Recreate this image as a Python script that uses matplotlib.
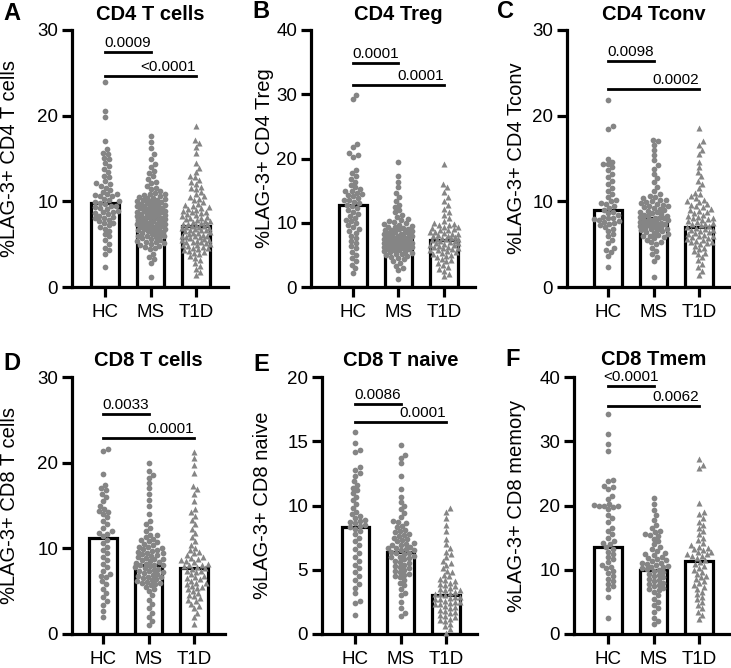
import numpy as np
import matplotlib
matplotlib.use("Agg")
import matplotlib.pyplot as plt
import matplotlib.transforms as mtransforms

plt.rcParams['font.family'] = ['Liberation Sans', 'DejaVu Sans']

groups = ["HC", "MS", "T1D"]

# ---- panel A: CD4 T cells
a_hc = [23.9, 20.6, 19.9, 17.1, 16.1, 15.7, 15.5, 15.1, 14.9, 14.5, 14.1, 13.8, 13.4, 13.0, 12.8,
        12.4, 12.1, 12.0, 11.8, 11.6, 11.3, 11.1, 10.9, 10.8, 10.7, 10.6, 10.6, 10.3, 10.1, 10.0,
        9.9, 9.8, 9.7, 9.5, 9.5, 9.3, 9.2, 9.1, 8.9, 8.8, 8.7, 8.6, 8.5, 8.3, 8.2, 8.1, 8.0,
        7.8, 7.7, 7.5, 7.5, 7.2, 7.0, 6.8, 6.5, 6.2, 5.9, 5.5, 5.0, 4.6, 4.3, 3.9, 2.3]
a_ms = [17.6, 16.9, 16.2, 15.5, 15.0, 14.4, 14.0, 13.5, 13.3, 12.9, 12.6, 12.3, 12.1, 11.8, 11.6,
        11.4, 11.2, 11.0, 10.9, 10.8, 10.7, 10.6, 10.5, 10.4, 10.4, 10.3, 10.2, 10.1, 10.0, 10.0,
        9.9, 9.8, 9.8, 9.7, 9.6, 9.6, 9.5, 9.5, 9.4, 9.3, 9.2, 9.2, 9.1, 9.0, 9.0, 8.9, 8.9,
        8.8, 8.7, 8.7, 8.6, 8.5, 8.5, 8.4, 8.4, 8.3, 8.2, 8.2, 8.1, 8.0, 8.0, 7.9, 7.9, 7.8,
        7.7, 7.7, 7.6, 7.5, 7.5, 7.4, 7.3, 7.3, 7.2, 7.1, 7.1, 7.0, 7.0, 6.9, 6.8, 6.8, 6.7,
        6.6, 6.6, 6.5, 6.4, 6.3, 6.3, 6.2, 6.1, 6.0, 6.0, 5.9, 5.8, 5.7, 5.6, 5.5, 5.4, 5.3,
        5.2, 5.1, 5.0, 4.9, 4.8, 4.7, 4.5, 4.4, 3.9, 3.5, 3.3, 2.8, 1.2]
a_t1d = [18.8, 17.2, 16.8, 16.3, 15.6, 14.5, 13.9, 13.4, 12.9, 12.8, 12.5, 12.2, 12.0, 11.7, 11.6,
         11.4, 11.1, 10.8, 10.6, 10.5, 10.3, 10.1, 9.9, 9.7, 9.6, 9.5, 9.3, 9.2, 9.1, 9.0,
         8.9, 8.8, 8.7, 8.6, 8.5, 8.4, 8.3, 8.2, 8.1, 8.0, 7.9, 7.8, 7.7, 7.7, 7.6, 7.5, 7.4,
         7.4, 7.3, 7.2, 7.1, 7.1, 7.0, 7.0, 6.9, 6.9, 6.8, 6.7, 6.6, 6.6, 6.5, 6.4, 6.3, 6.3,
         6.2, 6.1, 6.0, 6.0, 5.9, 5.8, 5.8, 5.7, 5.6, 5.5, 5.5, 5.4, 5.3, 5.2, 5.2, 5.1, 5.0,
         4.9, 4.9, 4.8, 4.7, 4.6, 4.5, 4.4, 4.3, 4.2, 4.1, 4.0, 3.8, 3.6, 3.4, 3.1, 2.8, 2.5,
         2.1, 1.8, 1.4]

# ---- panel B: CD4 Treg
b_hc = [29.9, 29.3, 22.3, 21.8, 20.8, 20.5, 20.2, 18.2, 17.7, 17.2, 16.8, 16.3, 15.9, 15.5, 15.2,
        15.0, 14.9, 14.6, 14.4, 14.3, 14.1, 13.8, 13.6, 13.5, 13.3, 13.0, 12.8, 12.6, 12.3, 12.0,
        11.7, 11.4, 11.1, 10.8, 10.5, 10.2, 9.9, 9.6, 9.3, 9.0, 8.7, 8.4, 8.0, 7.6, 7.2, 6.8,
        6.4, 6.0, 5.5, 5.0, 4.5, 4.0, 3.5, 2.9, 2.2]
b_ms = [19.4, 17.2, 16.4, 15.5, 14.6, 14.0, 13.4, 12.8, 12.4, 12.0, 11.6, 11.2, 10.9, 10.6, 10.4,
        10.3, 10.1, 9.9, 9.8, 9.7, 9.5, 9.4, 9.3, 9.2, 9.1, 9.0, 8.9, 8.8, 8.7, 8.6, 8.5, 8.4,
        8.3, 8.2, 8.2, 8.1, 8.0, 7.9, 7.9, 7.8, 7.7, 7.7, 7.6, 7.5, 7.5, 7.4, 7.3, 7.3, 7.2,
        7.1, 7.1, 7.0, 6.9, 6.9, 6.8, 6.7, 6.7, 6.6, 6.5, 6.5, 6.4, 6.3, 6.3, 6.2, 6.1, 6.1,
        6.0, 5.9, 5.9, 5.8, 5.7, 5.6, 5.5, 5.4, 5.3, 5.2, 5.1, 5.0, 4.9, 4.7, 4.5, 4.3, 4.0,
        3.7, 3.3, 3.0, 2.6, 1.3]
b_t1d = [19.2, 16.0, 15.5, 14.8, 14.0, 13.4, 12.8, 12.2, 11.6, 11.2, 10.7, 10.3, 10.0, 9.8, 9.7,
         9.6, 9.4, 9.3, 9.2, 9.0, 8.9, 8.8, 8.6, 8.5, 8.4, 8.3, 8.2, 8.1, 8.0, 7.9, 7.8, 7.7,
         7.6, 7.5, 7.5, 7.4, 7.3, 7.2, 7.1, 7.0, 6.9, 6.8, 6.7, 6.6, 6.5, 6.4, 6.3, 6.2, 6.1,
         6.0, 5.9, 5.8, 5.7, 5.6, 5.4, 5.3, 5.1, 5.0, 4.8, 4.6, 4.4, 4.2, 4.0, 3.7, 3.4, 3.1,
         2.8, 2.5, 2.1, 1.7]

# ---- panel C: CD4 Tconv
c_hc = [21.8, 18.8, 18.5, 15.0, 14.6, 14.4, 14.3, 14.0, 13.6, 13.2, 12.8, 12.4, 12.0, 11.6, 11.2,
        10.8, 10.5, 10.2, 10.0, 9.8, 9.7, 9.5, 9.2, 9.0, 8.8, 8.6, 8.4, 8.2, 8.1, 8.0, 7.9,
        7.8, 7.7, 7.6, 7.5, 7.4, 7.2, 7.0, 6.8, 6.5, 6.2, 5.9, 5.5, 5.1, 4.6, 4.3, 4.1, 3.6,
        2.3]
c_ms = [17.2, 17.0, 16.6, 16.0, 15.4, 14.8, 14.2, 13.8, 13.2, 12.7, 12.2, 11.7, 11.2, 10.8, 10.6,
        10.5, 10.4, 10.2, 10.1, 10.0, 9.9, 9.8, 9.7, 9.6, 9.5, 9.4, 9.3, 9.2, 9.1, 9.0, 8.9,
        8.8, 8.7, 8.6, 8.5, 8.4, 8.3, 8.3, 8.2, 8.1, 8.0, 8.0, 7.9, 7.8, 7.8, 7.7, 7.6, 7.6,
        7.5, 7.4, 7.4, 7.3, 7.2, 7.2, 7.1, 7.0, 7.0, 6.9, 6.8, 6.8, 6.7, 6.6, 6.5, 6.4, 6.3,
        6.2, 6.1, 6.0, 5.9, 5.8, 5.7, 5.5, 5.3, 5.2, 5.0, 4.6, 4.2, 3.8, 3.5, 3.0, 1.2]
c_t1d = [18.6, 17.0, 16.6, 16.0, 15.5, 14.6, 14.0, 13.4, 12.9, 12.4, 12.0, 11.5, 11.0, 10.8, 10.6,
         10.4, 10.2, 10.0, 9.9, 9.7, 9.6, 9.4, 9.3, 9.1, 9.0, 8.9, 8.7, 8.6, 8.4, 8.3, 8.2,
         8.1, 8.0, 7.9, 7.8, 7.7, 7.6, 7.5, 7.4, 7.3, 7.2, 7.1, 7.0, 6.9, 6.8, 6.7, 6.6, 6.5,
         6.4, 6.3, 6.2, 6.1, 6.0, 5.9, 5.8, 5.7, 5.6, 5.5, 5.4, 5.3, 5.2, 5.1, 5.0, 4.8, 4.6,
         4.4, 4.2, 4.0, 3.8, 3.5, 3.1, 2.7, 2.3, 1.9, 1.4]

# ---- panel D: CD8 T cells
d_hc = [21.6, 21.4, 18.7, 17.4, 17.0, 16.8, 16.4, 16.0, 15.5, 15.0, 14.6, 14.4, 14.2, 14.0, 13.6,
        13.2, 12.8, 12.4, 12.0, 11.8, 11.7, 11.4, 11.0, 10.6, 10.2, 9.8, 9.4, 9.0, 8.6, 8.2,
        7.8, 7.4, 7.0, 6.8, 6.6, 6.2, 5.8, 5.3, 4.8, 4.3, 3.8, 3.4, 2.7, 2.0]
d_ms = [20.0, 19.0, 18.6, 18.2, 17.6, 17.0, 16.4, 15.7, 15.0, 14.0, 13.2, 12.8, 12.4, 12.0, 11.6,
        11.5, 11.3, 11.1, 11.0, 10.8, 10.7, 10.5, 10.4, 10.2, 10.1, 10.0, 9.9, 9.8, 9.7, 9.6,
        9.5, 9.4, 9.3, 9.2, 9.1, 9.0, 8.9, 8.8, 8.7, 8.6, 8.5, 8.4, 8.3, 8.2, 8.1, 8.0, 8.0,
        7.9, 7.8, 7.7, 7.6, 7.5, 7.4, 7.3, 7.2, 7.1, 7.0, 6.9, 6.8, 6.7, 6.6, 6.5, 6.4, 6.3,
        6.2, 6.1, 6.0, 5.9, 5.8, 5.7, 5.5, 5.2, 5.0, 4.5, 4.0, 3.5, 3.0, 2.5, 2.0, 1.5, 1.0]
d_t1d = [21.3, 20.5, 19.7, 18.8, 17.3, 16.9, 16.4, 15.5, 14.6, 14.2, 13.8, 13.3, 12.8, 12.3, 11.8,
         11.3, 10.8, 10.4, 10.0, 9.8, 9.6, 9.4, 9.2, 9.0, 8.9, 8.8, 8.6, 8.5, 8.4, 8.2, 8.1,
         8.0, 7.9, 7.8, 7.7, 7.6, 7.4, 7.3, 7.2, 7.0, 6.8, 6.6, 6.5, 6.4, 6.2, 6.0, 5.9, 5.8,
         5.6, 5.5, 5.4, 5.2, 5.0, 4.8, 4.6, 4.4, 4.2, 4.0, 3.8, 3.5, 3.3, 3.0, 2.5, 2.0, 1.2]

# ---- panel E: CD8 T naive
e_hc = [15.7, 14.9, 14.3, 14.2, 13.0, 12.8, 12.5, 12.3, 11.9, 11.6, 11.4, 11.2, 11.0, 10.7, 10.4,
        10.1, 9.8, 9.5, 9.3, 9.2, 9.0, 8.9, 8.8, 8.7, 8.6, 8.5, 8.4, 8.3, 8.2, 8.0, 7.8, 7.5,
        7.2, 6.9, 6.6, 6.3, 6.0, 5.7, 5.4, 5.1, 4.8, 4.5, 4.2, 3.9, 3.6, 3.2, 2.6, 2.4, 1.5]
e_ms = [14.7, 13.9, 13.7, 13.3, 12.3, 11.3, 10.7, 10.3, 10.0, 9.7, 9.4, 9.1, 8.8, 8.7, 8.6, 8.4,
        8.3, 8.1, 8.0, 7.9, 7.8, 7.7, 7.6, 7.5, 7.4, 7.3, 7.2, 7.1, 7.0, 6.9, 6.9, 6.8, 6.7,
        6.7, 6.6, 6.5, 6.5, 6.4, 6.3, 6.3, 6.2, 6.1, 6.0, 6.0, 5.9, 5.8, 5.7, 5.6, 5.5, 5.4,
        5.3, 5.2, 5.1, 5.0, 4.9, 4.8, 4.7, 4.6, 4.5, 4.4, 4.2, 4.0, 3.8, 3.5, 3.2, 3.0, 2.5,
        2.0, 1.6, 1.4]
e_t1d = [9.8, 9.5, 9.0, 8.5, 8.0, 7.4, 7.0, 6.7, 6.4, 6.2, 6.0, 5.7, 5.5, 5.4, 5.1, 4.9, 4.8,
         4.6, 4.5, 4.3, 4.2, 4.1, 4.0, 3.9, 3.8, 3.7, 3.6, 3.5, 3.4, 3.4, 3.3, 3.2, 3.1, 3.1,
         3.0, 2.9, 2.9, 2.8, 2.7, 2.7, 2.6, 2.5, 2.5, 2.4, 2.3, 2.3, 2.2, 2.1, 2.0, 1.9, 1.8,
         1.7, 1.6, 1.5, 1.4, 1.3, 1.2, 1.1, 1.0, 0.8, 0.6, 0.4, 0.1]

# ---- panel F: CD8 Tmem
f_hc = [34.2, 31.2, 29.5, 28.5, 24.0, 23.8, 23.0, 22.9, 22.6, 21.5, 21.0, 20.1, 20.0, 20.0, 19.9,
        20.2, 19.8, 19.5, 18.5, 18.0, 17.5, 16.5, 16.0, 15.5, 15.0, 14.5, 14.2, 14.0, 13.5, 13.2,
        12.8, 12.4, 12.0, 11.6, 11.2, 10.8, 10.5, 10.2, 9.8, 9.5, 9.0, 8.6, 8.2, 7.8, 7.4,
        7.0, 5.7, 2.5]
f_ms = [21.2, 20.2, 19.3, 18.5, 17.8, 17.0, 16.5, 16.0, 15.8, 15.6, 15.4, 15.2, 14.8, 14.4, 14.0,
        13.6, 13.2, 12.9, 12.6, 12.4, 12.3, 12.0, 11.8, 11.6, 11.5, 11.3, 11.1, 11.0, 10.9, 10.8,
        10.6, 10.5, 10.4, 10.2, 10.1, 10.0, 9.8, 9.6, 9.4, 9.2, 9.0, 8.8, 8.6, 8.4, 8.2, 8.0,
        7.8, 7.6, 7.4, 7.2, 7.0, 6.8, 6.6, 6.0, 5.5, 5.0, 4.5, 4.0, 3.5, 2.5, 2.0, 1.5]
f_t1d = [27.2, 26.3, 25.8, 20.4, 19.0, 18.6, 18.0, 17.5, 17.0, 16.5, 16.0, 15.5, 15.0, 14.6, 14.2,
         13.8, 13.6, 13.4, 13.2, 13.0, 12.8, 12.7, 12.5, 12.4, 12.2, 12.1, 11.8, 11.5, 11.2, 10.9,
         10.6, 10.3, 10.0, 9.7, 9.4, 9.1, 8.8, 8.5, 8.2, 7.9, 7.6, 7.3, 7.0, 6.6, 6.2, 5.8,
         5.4, 5.0, 4.5, 4.0, 3.5, 3.0, 2.3]

# bar heights (group means)
means_a = [9.8, 8.1, 7.1]
means_b = [12.7, 7.6, 7.3]
means_c = [9.0, 8.0, 7.0]
means_d = [11.2, 8.1, 7.7]
means_e = [8.3, 6.4, 3.0]
means_f = [13.6, 10.0, 11.4]

titles = ["CD4 T cells", "CD4 Treg", "CD4 Tconv", "CD8 T cells", "CD8 T naive", "CD8 Tmem"]
ylabels = ["%LAG-3+ CD4 T cells", "%LAG-3+ CD4 Treg", "%LAG-3+ CD4 Tconv",
           "%LAG-3+ CD8 T cells", "%LAG-3+ CD8 naive", "%LAG-3+ CD8 memory"]
letters = ["A", "B", "C", "D", "E", "F"]
ymaxes = [30, 40, 30, 30, 20, 40]
ysteps = [10, 10, 10, 10, 5, 10]
pvals = [("0.0009", "<0.0001"), ("0.0001", "0.0001"), ("0.0098", "0.0002"),
         ("0.0033", "0.0001"), ("0.0086", "0.0001"), ("<0.0001", "0.0062")]
sig_y = [(27.4, 24.6), (34.9, 31.5), (26.4, 23.1), (25.7, 22.9), (17.9, 16.5), (38.6, 35.5)]

W, H = 731, 668
# left px, right px, top px, bottom px, xlim left, xlim right
boxes = [(72, 228, 30, 287, -0.725, 2.70), (311, 475, 30, 287, -0.92, 2.68),
         (567, 731, 30, 287, -0.90, 2.70), (72, 225, 377, 634, -0.68, 2.68),
         (322, 477, 377, 634, -0.73, 2.68), (574, 731, 377, 634, -0.75, 2.70)]
ylab_x = [9.5, 264, 517, 9.5, 262, 516]
title_y = [15, 15, 15, 360, 361, 359]
letter_xy = [(12, 14), (261, 11), (505, 12), (12, 364), (261, 365), (513, 360)]

data = [(a_hc, a_ms, a_t1d), (b_hc, b_ms, b_t1d), (c_hc, c_ms, c_t1d),
        (d_hc, d_ms, d_t1d), (e_hc, e_ms, e_t1d), (f_hc, f_ms, f_t1d)]
means = [means_a, means_b, means_c, means_d, means_e, means_f]

GRAY = '#858585'
LW = 2.3


def swarm(ax, vals, xc, d=5.0, cap=14.0):
    # beeswarm in pixel space; points may overlap once the band is full
    pts = ax.transData.transform(np.column_stack([np.full(len(vals), xc), vals]))
    ys = pts[:, 1]
    x0 = pts[0, 0]
    xs = np.zeros(len(vals))
    cands = [0.0]
    for k in range(1, int(cap / 0.5) + 1):
        cands += [k * 0.5, -k * 0.5]
    cands = np.array(cands)
    px = np.zeros(0)
    py = np.zeros(0)
    for i in np.argsort(ys):
        y = ys[i]
        if len(px):
            dist = np.sqrt((cands[:, None] - px[None, :]) ** 2 + (y - py[None, :]) ** 2).min(axis=1)
            ok = np.where(dist >= d)[0]
            off = cands[ok[0]] if len(ok) else cands[np.argmax(dist)]
        else:
            off = 0.0
        px = np.append(px, off)
        py = np.append(py, y)
        xs[i] = x0 + off
    back = ax.transData.inverted().transform(np.column_stack([xs, ys]))
    return back[:, 0]


fig = plt.figure(figsize=(W / 100, H / 100), dpi=100)

for p in range(6):
    l, r, t, b, x0, x1 = boxes[p]
    ax = fig.add_axes([l / W, 1 - b / H, (r - l) / W, (b - t) / H])
    ax.set_xlim(x0, x1)
    ax.set_ylim(0, ymaxes[p])
    ax.bar(range(3), means[p], width=0.6, color='white', edgecolor='black',
           linewidth=LW, zorder=1)
    for g in range(3):
        vals = data[p][g]
        xs = swarm(ax, vals, g)
        marker = '^' if g == 2 else 'o'
        ax.scatter(xs, vals, s=19 if g == 2 else 17, marker=marker, color=GRAY,
                   linewidths=0, zorder=3, clip_on=False)
    ax.set_xticks(range(3))
    ax.set_xticklabels(groups)
    ax.set_yticks(np.arange(0, ymaxes[p] + 1, ysteps[p]))
    ax.tick_params(width=LW, length=7, labelsize=13.5, pad=3)
    ax.tick_params(axis='x', pad=5)
    for s in ['top', 'right']:
        ax.spines[s].set_visible(False)
    for s in ['left', 'bottom']:
        ax.spines[s].set_linewidth(LW)

    # significance bars
    y1, y2 = sig_y[p]
    ax.plot([0, 1], [y1, y1], color='black', lw=2, clip_on=False)
    ax.plot([0, 2], [y2, y2], color='black', lw=2, clip_on=False)
    ax.annotate(pvals[p][0], (0.5, y1), xytext=(0, 1.5), textcoords='offset points',
                ha='center', va='bottom', fontsize=11, annotation_clip=False)
    ax.annotate(pvals[p][1], (2, y2), xytext=(0, 1.5), textcoords='offset points',
                ha='right', va='bottom', fontsize=11, annotation_clip=False)

    trans = mtransforms.blended_transform_factory(ax.transData, fig.transFigure)
    ax.text(1, 1 - title_y[p] / H, titles[p], transform=trans, ha='center', va='center',
            fontsize=14.5, fontweight='bold')
    fig.text(ylab_x[p] / W, 1 - (t + b) / 2 / H, ylabels[p], rotation=90,
             ha='center', va='center', fontsize=14.5)
    fig.text(letter_xy[p][0] / W, 1 - letter_xy[p][1] / H, letters[p], ha='center',
             va='center', fontsize=17, fontweight='bold')

fig.savefig("out.png", dpi=100)
